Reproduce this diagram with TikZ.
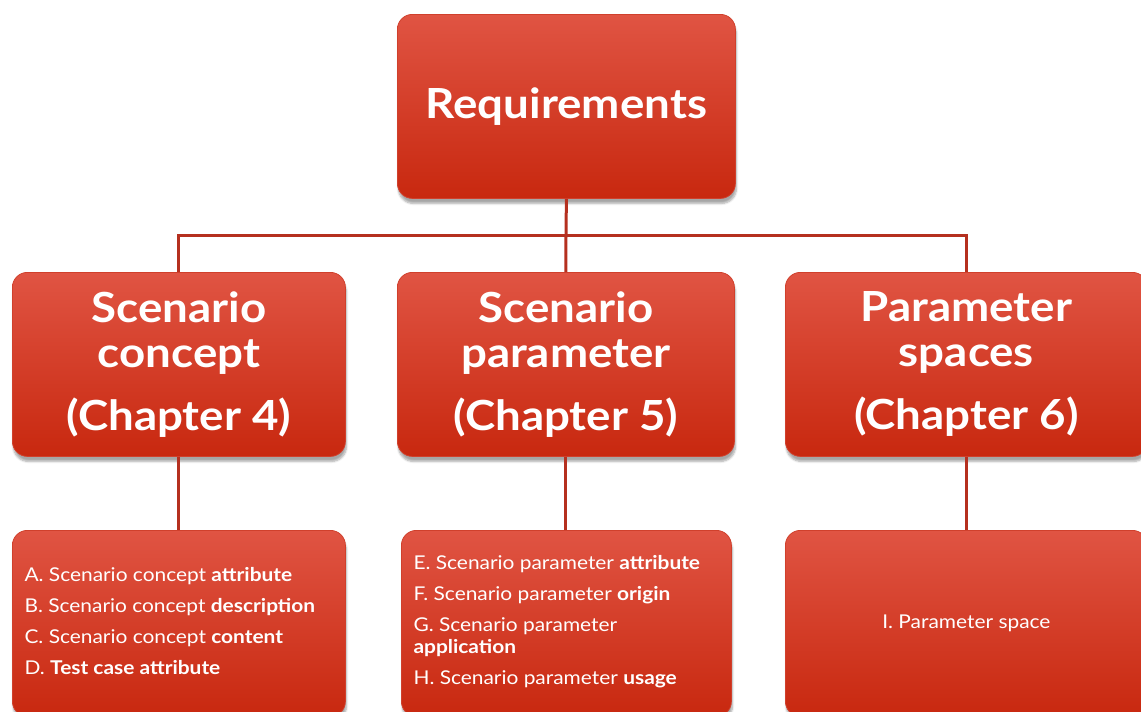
\documentclass[tikz,border=0pt]{standalone}
\usepackage{fontspec}
\setmainfont{Lato}[FakeStretch=1.1]
\usetikzlibrary{shadows.blur}
\definecolor{boxtop}{HTML}{E05443}
\definecolor{boxbot}{HTML}{C8280F}
\definecolor{boxline}{HTML}{D0402C}
\definecolor{wire}{HTML}{B5301F}
\tikzset{
  redbox/.style={rectangle, rounded corners=15pt, anchor=north west,
    top color=boxtop, bottom color=boxbot, draw=boxline, line width=0.8pt,
    blur shadow={shadow xshift=1pt, shadow yshift=-5pt, shadow opacity=35, shadow blur steps=6},
    text=white, inner sep=0pt},
  wireline/.style={draw=wire, line width=3pt},
  headtext/.style={font=\fontsize{41.5}{45}\selectfont\bfseries, align=center},
  itemtext/.style={font=\fontsize{19}{22}\selectfont, align=left, text=white}
}
\begin{document}
\begin{tikzpicture}[x=1pt, y=-1pt]
  \useasboundingbox (0,0) rectangle (1141,712);
  \clip (0,0) rectangle (1141,712);

  % top level
  \node[redbox, minimum width=338pt, minimum height=184pt,
        font=\fontsize{41.5}{46}\selectfont\bfseries] (req) at (397,14) {Requirements};

  % chapter boxes
  \node[redbox, minimum width=333pt, minimum height=184pt, headtext] (c4) at (12,272)
    {Scenario\\concept\\[18pt](Chapter 4)};
  \node[redbox, minimum width=337pt, minimum height=184pt, headtext] (c5) at (397,272)
    {Scenario\\parameter\\[18pt](Chapter 5)};
  \node[redbox, minimum width=362pt, minimum height=184pt, headtext] (c6) at (785,272)
    {Parameter\\spaces\\[18pt](Chapter 6)};

  % detail boxes
  \node[redbox, minimum width=333pt, minimum height=186pt] (d4) at (12,530) {};
  \node[redbox, minimum width=330pt, minimum height=186pt] (d5) at (401,530) {};
  \node[redbox, minimum width=362pt, minimum height=186pt] (d6) at (785,530) {};

  \node[itemtext, anchor=west] (t4) at (21,621)
    {A. Scenario concept \textbf{attribute}\\[9pt]
     B. Scenario concept \textbf{description}\\[9pt]
     C. Scenario concept \textbf{content}\\[9pt]
     D. \textbf{Test case attribute}};
  \node[itemtext, anchor=west] (t5) at (410,622)
    {E. Scenario parameter \textbf{attribute}\\[9pt]
     F. Scenario parameter \textbf{origin}\\[9pt]
     G. Scenario parameter\\
     \textbf{application}\\[9pt]
     H. Scenario parameter \textbf{usage}};
  \node[itemtext, anchor=center] (t6) at (d6.center) {I. Parameter space};

  % connectors
  \coordinate (bus) at (566,235);
  \draw[wireline] (req.south) -- (bus);
  \draw[wireline] (c4.north) |- (bus) -| (c6.north);
  \draw[wireline] (bus) -- (c5.north);
  \draw[wireline] (c4.south) -- (d4.north);
  \draw[wireline] (c5.south) -- (d5.north -| c5.south);
  \draw[wireline] (c6.south) -- (d6.north);
\end{tikzpicture}
\end{document}
